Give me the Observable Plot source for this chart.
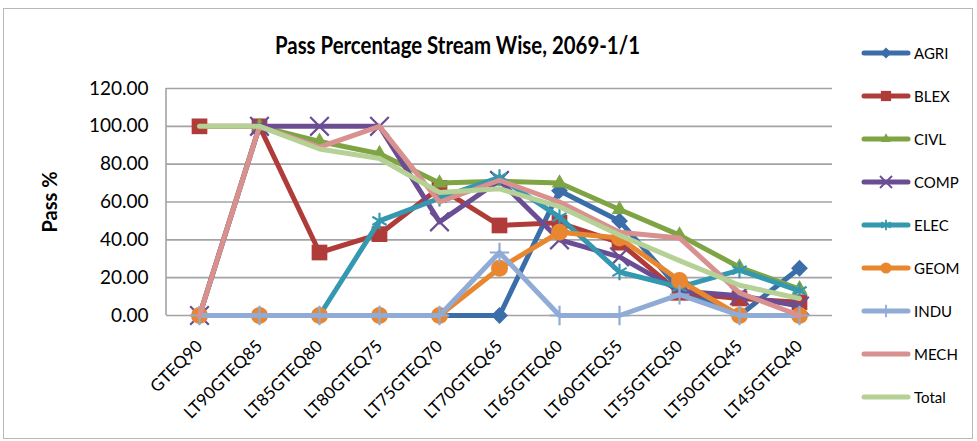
<!DOCTYPE html>
<html>
<head>
<meta charset="utf-8">
<script src="https://cdn.jsdelivr.net/npm/d3@7"></script>
<script src="https://cdn.jsdelivr.net/npm/@observablehq/plot@0.6"></script>
<style>
  html, body { margin: 0; padding: 0; background: #fff; }
  #wrap { position: relative; width: 977px; height: 441px; overflow: hidden; font-family: Lato, "Open Sans", sans-serif; }
  #border { position: absolute; left: 3px; top: 8px; width: 970px; height: 431px; border: 1px solid #b8b8b8; box-sizing: border-box; }
  #title { position: absolute; left: 275px; top: 30px; font-family: "Liberation Sans Narrow", Lato, sans-serif; font-weight: bold; font-size: 24px; color: #000; white-space: nowrap; transform-origin: 0 0; }
  #chart { position: absolute; left: 0; top: 0; }
  #legend { position: absolute; left: 861px; top: 0; }
  .li { position: absolute; left: 0; height: 20px; display: flex; align-items: center; font-size: 15px; color: #000; white-space: nowrap; }
  .li svg { margin-right: 3px; }
  #chart svg g[aria-label="y-axis label"] text { font-weight: bold; font-size: 20px; }
</style>
</head>
<body>
<div id="wrap">
  <div id="border"></div>
  <div id="chart"></div>
  <div id="title">Pass Percentage Stream Wise, 2069-1/1</div>
  <div id="legend"></div>
</div>
<script>
const categories = ["GTEQ90","LT90GTEQ85","LT85GTEQ80","LT80GTEQ75","LT75GTEQ70","LT70GTEQ65","LT65GTEQ60","LT60GTEQ55","LT55GTEQ50","LT50GTEQ45","LT45GTEQ40"];
const yTicks = [0, 20, 40, 60, 80, 100, 120];

const AGRI  = [0, 0, 0, 0, 0, 0, 66, 50, 14, 0, 25];
const BLEX  = [100, 100, 33.3, 43, 67.5, 47.6, 49, 38.5, 12, 9, 7];
const CIVL  = [0, 100, 92, 85.5, 70, 71, 70, 56, 42.5, 25.5, 14];
const COMP  = [0, 100, 100, 100, 49.5, 71.4, 40, 31, 13, 10.5, 5];
const ELEC  = [0, 0, 0, 50, 62, 73, 52, 23, 15, 24, 13];
const GEOM  = [0, 0, 0, 0, 0, 25, 44, 41, 18.5, 0, 0];
const INDU  = [0, 0, 0, 0, 0, 33.3, 0, 0, 11, 0, 0];
const MECH  = [0, 100, 89, 100, 60, 71.5, 60, 44, 41, 12, 0];
const Total = [100, 100, 88, 83, 65, 67, 57.5, 42.5, 29, 16, 9];

const seriesNames = ["AGRI","BLEX","CIVL","COMP","ELEC","GEOM","INDU","MECH","Total"];
const seriesValues = [AGRI, BLEX, CIVL, COMP, ELEC, GEOM, INDU, MECH, Total];
const seriesColors = ["#3b6ea8","#b03c3a","#7fa444","#6b4d94","#3498b0","#e8872f","#8fabd6","#d8918f","#b6d196"];
// marker: [plot symbol, filled?, r]
const seriesMarkers = [
  ["diamond2", true, 7.6],
  ["square2", true, 10],
  ["triangle2", true, 7.4],
  ["times", false, 8.5],
  ["asterisk", false, 7.8],
  ["circle", true, 8.5],
  ["plus", false, 6.3],
  null,
  null
];

const data = [];
seriesNames.forEach((name, si) => {
  categories.forEach((c, i) => data.push({series: name, cat: c, value: seriesValues[si][i]}));
});

const marks = [
  Plot.gridY(yTicks, {stroke: "#a3a3a3", strokeOpacity: 1, strokeWidth: 1.6}),
  Plot.axisY(yTicks, {
    tickSize: 0, tickPadding: 18, fontSize: 19,
    tickFormat: d => d.toFixed(2),
    label: "Pass %", labelAnchor: "center", labelArrow: "none", labelOffset: 124
  }),
  Plot.axisX({tickSize: 0, tickPadding: 28, tickRotate: -45, fontSize: 17, label: null})
];
seriesNames.forEach((name, si) => {
  const rows = data.filter(d => d.series === name);
  marks.push(Plot.line(rows, {x: "cat", y: "value", stroke: seriesColors[si], strokeWidth: 5, strokeLinejoin: "round", strokeLinecap: "round"}));
  const m = seriesMarkers[si];
  if (m) {
    marks.push(Plot.dot(rows, {
      x: "cat", y: "value", symbol: m[0], r: m[2],
      fill: m[1] ? seriesColors[si] : "none",
      stroke: seriesColors[si], strokeWidth: m[1] ? 0 : 2.2
    }));
  }
});

const chart = Plot.plot({
  width: 977, height: 441,
  marginLeft: 166, marginRight: 145, marginTop: 88, marginBottom: 126,
  style: {fontFamily: "Lato, 'Open Sans', sans-serif", color: "#000", background: "transparent"},
  x: {type: "point", domain: categories, padding: 0.5, axis: null},
  y: {domain: [0, 120], axis: null},
  marks
});
document.getElementById("chart").appendChild(chart);
// left axis line
d3.select(chart).append("line").attr("x1", 166).attr("x2", 166).attr("y1", 88).attr("y2", 315)
   .attr("stroke", "#a3a3a3").attr("stroke-width", 1.6);

// title: fit to the reference width
{
  const t = document.getElementById("title");
  const w = t.getBoundingClientRect().width;
  t.style.transform = `scaleX(${365 / w})`;
}

// legend
const legend = document.getElementById("legend");
const legendY = [53, 96, 139, 182, 225, 268, 311, 354, 397];
seriesNames.forEach((name, si) => {
  const div = document.createElement("div");
  div.className = "li";
  div.style.top = (legendY[si] - 10) + "px";
  const ns = "http://www.w3.org/2000/svg";
  const s = document.createElementNS(ns, "svg");
  s.setAttribute("width", 50); s.setAttribute("height", 20);
  const ln = document.createElementNS(ns, "line");
  ln.setAttribute("x1", 3); ln.setAttribute("x2", 47); ln.setAttribute("y1", 10); ln.setAttribute("y2", 10);
  ln.setAttribute("stroke", seriesColors[si]); ln.setAttribute("stroke-width", 5); ln.setAttribute("stroke-linecap", "round");
  s.appendChild(ln);
  const m = seriesMarkers[si];
  if (m) {
    const symMap = {diamond2: d3.symbolDiamond2, square2: d3.symbolSquare2, triangle2: d3.symbolTriangle2, times: d3.symbolTimes, asterisk: d3.symbolAsterisk, circle: d3.symbolCircle, plus: d3.symbolPlus};
    const p = document.createElementNS(ns, "path");
    const rr = m[2] * 0.65;
    p.setAttribute("d", d3.symbol(symMap[m[0]], Math.PI * rr * rr)());
    p.setAttribute("transform", "translate(25,10)");
    p.setAttribute("fill", m[1] ? seriesColors[si] : "none");
    p.setAttribute("stroke", seriesColors[si]);
    p.setAttribute("stroke-width", m[1] ? 0 : 1.8);
    s.appendChild(p);
  }
  div.appendChild(s);
  const t = document.createElement("span");
  t.textContent = name;
  div.appendChild(t);
  legend.appendChild(div);
});
</script>
</body>
</html>
